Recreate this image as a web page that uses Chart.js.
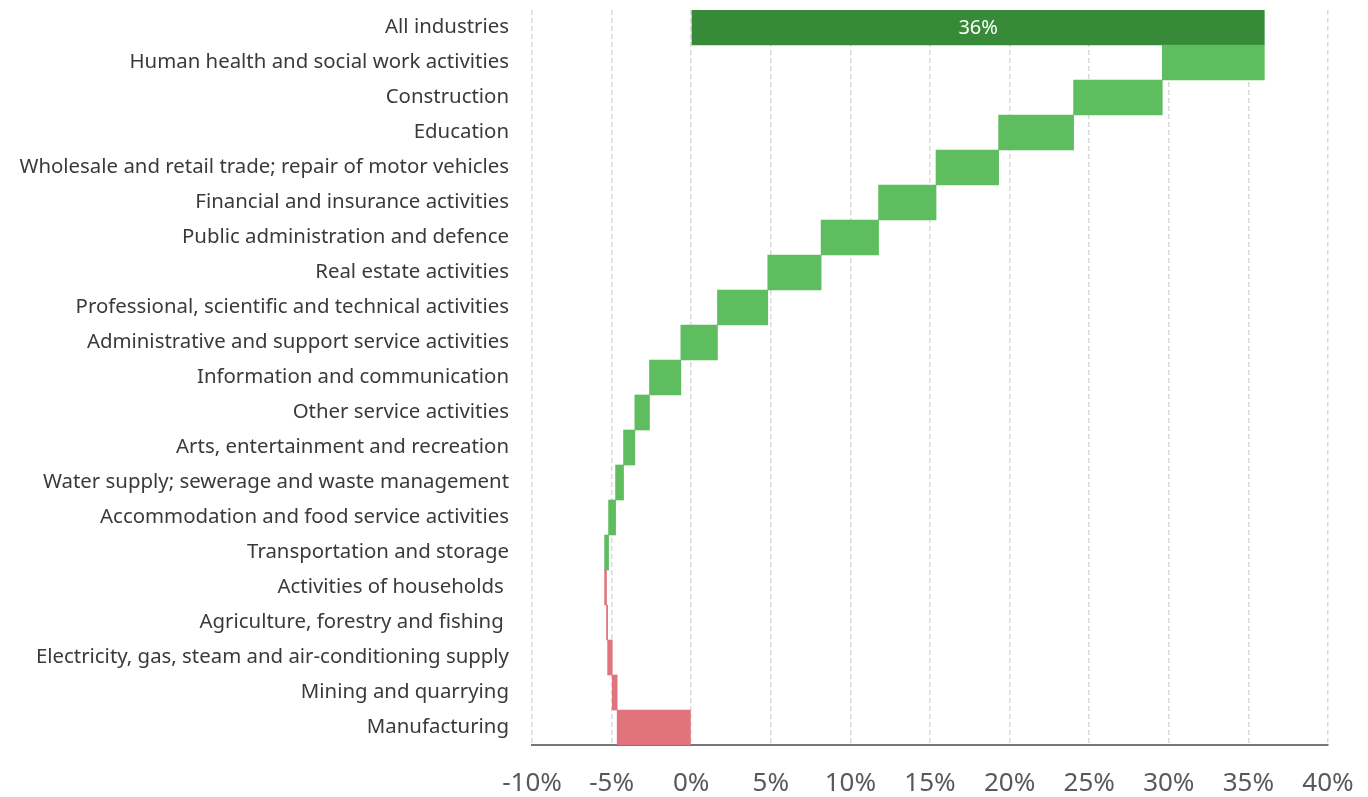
<!DOCTYPE html>
<html>
<head>
<meta charset="utf-8">
<script src="https://cdn.jsdelivr.net/npm/chart.js@4.4.1/dist/chart.umd.min.js"></script>
<style>
  html, body { margin: 0; padding: 0; background: #ffffff; }
  #wrap { width: 1368px; height: 797px; position: relative; }
</style>
</head>
<body>
<div id="wrap"><canvas id="chart"></canvas></div>
<script>
// Contribution of each industry to the overall change (percentage points), top to bottom.
const totalLabel = 'All industries';
const totalValue = 36;
const industries = [
  'Human health and social work activities',
  'Construction',
  'Education',
  'Wholesale and retail trade; repair of motor vehicles',
  'Financial and insurance activities',
  'Public administration and defence',
  'Real estate activities',
  'Professional, scientific and technical activities',
  'Administrative and support service activities',
  'Information and communication',
  'Other service activities',
  'Arts, entertainment and recreation',
  'Water supply; sewerage and waste management',
  'Accommodation and food service activities',
  'Transportation and storage',
  'Activities of households ',
  'Agriculture, forestry and fishing ',
  'Electricity, gas, steam and air-conditioning supply',
  'Mining and quarrying',
  'Manufacturing'
];
const changes = [6.41, 5.57, 4.71, 3.93, 3.61, 3.61, 3.35, 3.16, 2.30, 1.97,
                 0.92, 0.71, 0.50, 0.44, 0.25, -0.12, -0.07, -0.29, -0.31, -4.65];
const xTicks = [-10, -5, 0, 5, 10, 15, 20, 25, 30, 35, 40];

const COLOR_TOTAL = '#378a37';
const COLOR_UP = '#5ebd5e';
const COLOR_DOWN = '#e0737b';

// Waterfall: accumulate from the bottom row (Manufacturing) upward.
const ranges = new Array(industries.length);
let running = 0;
for (let i = industries.length - 1; i >= 0; i--) {
  const start = running;
  running = +(running + changes[i]).toFixed(4);
  ranges[i] = [start, running];
}

const labels = [totalLabel, ...industries];
const data = [[0, totalValue], ...ranges];
const colors = [COLOR_TOTAL, ...changes.map(v => v >= 0 ? COLOR_UP : COLOR_DOWN)];

const FONT = "'Noto Sans', 'Open Sans', sans-serif";

// Writes the total's value inside its bar.
const totalLabelPlugin = {
  id: 'totalLabel',
  afterDatasetsDraw(chart) {
    const meta = chart.getDatasetMeta(0);
    const bar = meta.data[0];
    const { ctx } = chart;
    ctx.save();
    ctx.fillStyle = '#ffffff';
    ctx.font = '20px ' + FONT;
    ctx.textAlign = 'center';
    ctx.textBaseline = 'middle';
    const cx = (bar.x + bar.base) / 2;
    ctx.fillText(totalValue + '%', cx, bar.y + 1);
    ctx.restore();
  }
};

new Chart(document.getElementById('chart'), {
  type: 'bar',
  data: {
    labels: labels,
    datasets: [{
      data: data,
      backgroundColor: colors,
      borderWidth: 0,
      barPercentage: 1,
      categoryPercentage: 1
    }]
  },
  options: {
    indexAxis: 'y',
    responsive: true,
    maintainAspectRatio: false,
    animation: false,
    layout: { padding: { top: 10, right: 40, left: 0, bottom: 0 } },
    plugins: {
      legend: { display: false },
      tooltip: { enabled: false }
    },
    scales: {
      x: {
        type: 'linear',
        min: -10,
        max: 40,
        afterBuildTicks(scale) { scale.ticks = xTicks.map(v => ({ value: v })); },
        afterFit(scale) {
          scale.height = 52;
          scale.paddingLeft = 0;
          scale.paddingRight = 0;
        },
        ticks: {
          callback: v => v + '%',
          color: '#595959',
          font: { family: FONT, size: 26 },
          padding: 23,
          maxRotation: 0
        },
        grid: {
          color: '#d9d9d9',
          lineWidth: 1.5,
          drawTicks: false
        },
        border: {
          display: true,
          color: '#767676',
          width: 2,
          dash: [5, 3]
        }
      },
      y: {
        afterFit(scale) {
          scale.width = 532;
          scale.paddingTop = 0;
          scale.paddingBottom = 0;
        },
        ticks: {
          color: '#3a3a3a',
          font: { family: FONT, size: 20.4 },
          padding: 23,
          autoSkip: false
        },
        grid: { display: false, drawTicks: false },
        border: { display: false }
      }
    }
  },
  plugins: [totalLabelPlugin]
});
</script>
</body>
</html>
